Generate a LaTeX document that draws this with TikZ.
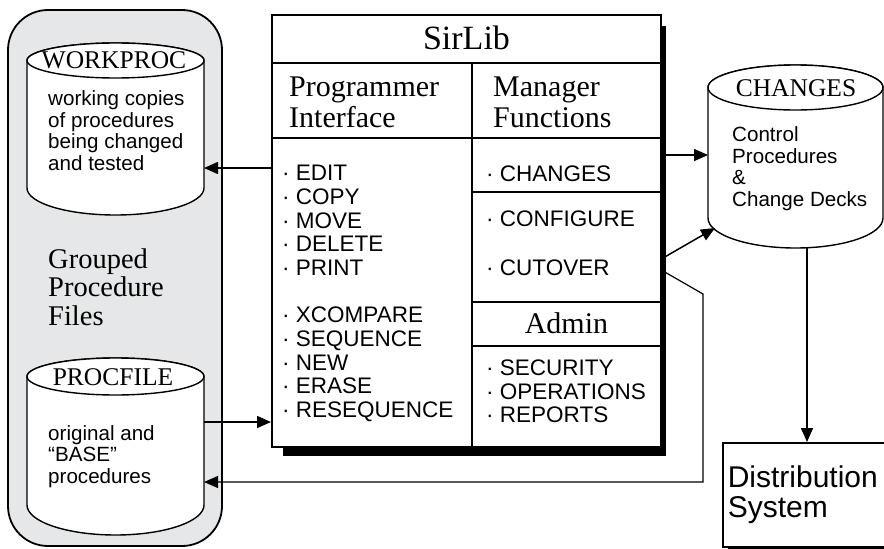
\documentclass[tikz,border=0pt]{standalone}
\usepackage{fontspec}
\setmainfont{Liberation Serif}
\setsansfont{Liberation Sans}
\usepackage{tikz}
\usetikzlibrary{arrows.meta,calc,positioning}
\definecolor{panelgray}{RGB}{230,231,232}
\newcommand{\hdfont}{\fontsize{30}{31}\selectfont}
\newcommand{\itemfont}{\sffamily\fontsize{22.5}{23.7}\selectfont}
\newcommand{\dbfont}{\sffamily\fontsize{20.6}{21.6}\selectfont}
% name, top centre, half width, top ry, side, bottom ry
\newcommand{\drum}[6]{%
  \coordinate (#1) at (#2);
  \filldraw[drumline] ($(#1)+(-#3,0)$) -- ++(0,-#5)
    arc[start angle=180,end angle=360,x radius=#3,y radius=#6] -- ++(0,#5)
    arc[start angle=0,end angle=180,x radius=#3,y radius=#4] -- cycle;
  \draw[drumline] (#1) ellipse[x radius=#3,y radius=#4];
}

\begin{document}
\begin{tikzpicture}[x=1pt,y=1pt,
  drumline/.style={line width=1.4pt,fill=white},
  conn/.style={line width=1.5pt,-{Triangle[length=14pt,width=12pt]}},
  rule/.style={line width=2pt},
  hd/.style={font=\hdfont,inner sep=0},
  item/.style={font=\itemfont,align=left,anchor=west,inner sep=0},
  dbtitle/.style={font=\fontsize{25.5}{26}\selectfont,inner sep=0},
  dbtext/.style={font=\dbfont,align=left,anchor=west,inner sep=0}]
\useasboundingbox (0,0) rectangle (884,-549);

% grouped procedure files
\draw[line width=1.8pt,fill=panelgray,rounded corners=40pt] (8,-10) rectangle (222,-546);
\node[hd,font=\fontsize{28.5}{28.5}\selectfont,align=left,anchor=west] (GPF) at (48,-287) {Grouped\\Procedure\\Files};

\drum{WP}{115.5,-60.5}{88.5}{17.5}{127.5}{27}
\node[dbtitle] (WPt) at (114,-60) {WORKPROC};
\node[dbtext] (WPx) at (48,-130.5) {working copies\\of procedures\\being changed\\and tested};

\drum{PF}{115.5,-376.5}{88.5}{18.5}{128.5}{30}
\node[dbtitle] (PFt) at (113,-377) {PROCFILE};
\node[dbtext] (PFx) at (48,-456.5) {original and\\“BASE”\\procedures};

% SirLib table
\fill (283,-26) rectangle (666,-456);
\node[draw,rule,fill=white,minimum width=389pt,minimum height=432pt,inner sep=0] (SL) at (466.5,-231) {};
\draw[rule] (272,-63) -- (661,-63);
\draw[rule] (272,-138) -- (661,-138);
\draw[rule] (472,-63) -- (472,-447);
\draw[rule] (472,-192) -- (661,-192);
\draw[rule] (472,-302) -- (661,-302);
\draw[rule] (472,-346) -- (661,-346);
\node[hd,font=\fontsize{34}{34}\selectfont] (SLt) at (466.5,-38) {SirLib};
\node[hd,align=left,anchor=west] (PI) at (289,-102.5) {Programmer\\Interface};
\node[hd,align=left,anchor=west] (MF) at (493,-102.5) {Manager\\Functions};
\node[item] (PIops) at (282,-293.5) {· EDIT\\· COPY\\· MOVE\\· DELETE\\· PRINT\\[23.7pt]· XCOMPARE\\· SEQUENCE\\· NEW\\· ERASE\\· RESEQUENCE};
\node[item] (MFch) at (486,-174) {· CHANGES};
\node[item] (MFcf) at (486,-219) {· CONFIGURE};
\node[item] (MFco) at (486,-268) {· CUTOVER};
\node[hd] (AD) at (566.5,-323) {Admin};
\node[item] (ADops) at (486,-391.5) {· SECURITY\\· OPERATIONS\\· REPORTS};

% changes
\drum{CH}{795.5,-87.5}{87.5}{22.5}{130.5}{30}
\node[dbtitle] (CHt) at (796,-88) {CHANGES};
\node[dbtext] (CHx) at (732,-168.5) {Control\\Procedures\\\&\\Change Decks};

% distribution
\fill (728,-446) rectangle (940,-549);
\node[draw,line width=1.6pt,fill=white,anchor=north west,minimum width=210pt,minimum height=104pt,
  inner xsep=5pt,text width=200pt,align=left,font=\sffamily\fontsize{30}{30}\selectfont] (DS) at (722,-442) {Distribution\\System};

% connectors
\coordinate (WPin) at (204,-168);
\draw[conn] (SL.west |- WPin) -- (WPin);
\coordinate (PFout) at (204,-422);
\draw[conn] (PFout) -- (SL.west |- PFout);
\coordinate (CHin) at (708,-155);
\draw[conn] (SL.east |- CHin) -- (CHin);
\coordinate (COout) at (663,-258);
\coordinate (CHlow) at (715,-228);
\draw[conn] (COout) -- (CHlow);
\coordinate (COret) at (663,-271);
\coordinate (PFin) at (204,-482);
\draw[conn,line width=1.2pt] (COret) -- (703,-294) |- (PFin);
\coordinate (CHout) at (807,-248);
\draw[conn] (CHout) -- (CHout |- DS.north);
\end{tikzpicture}
\end{document}
